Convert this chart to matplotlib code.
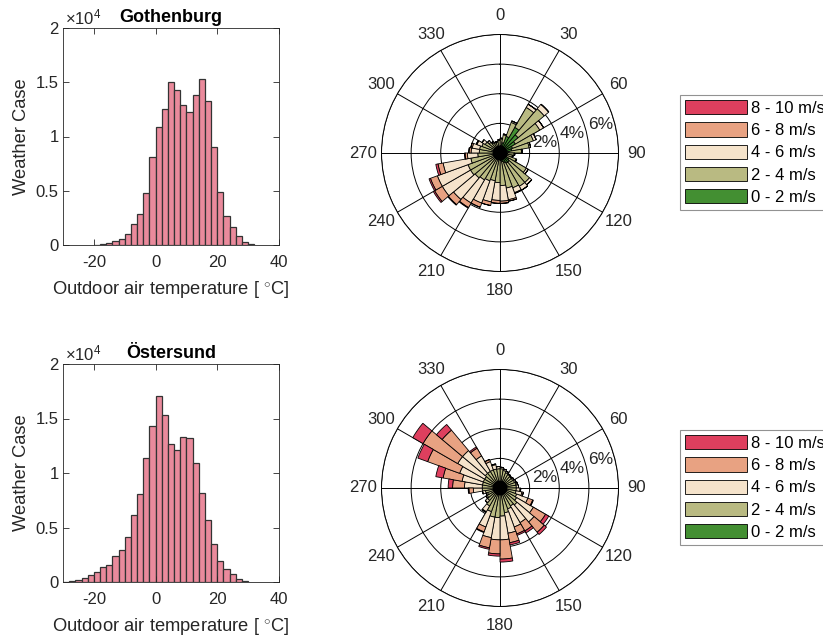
import numpy as np
import matplotlib
matplotlib.use('Agg')
import matplotlib.pyplot as plt
from matplotlib.patches import Patch

plt.rcParams['font.family'] = ['Liberation Sans', 'DejaVu Sans']
plt.rcParams['mathtext.fontset'] = 'custom'
plt.rcParams['mathtext.rm'] = 'Liberation Sans'
plt.rcParams['mathtext.it'] = 'Liberation Sans:italic'
plt.rcParams['mathtext.bf'] = 'Liberation Sans:bold'
plt.rcParams['axes.unicode_minus'] = False

# ---------------- data ----------------
cities = ['Gothenburg', 'Östersund']

# temperature histograms (bin width 2 °C, left edges)
goth_bin_left = list(range(-20, 32, 2))
goth_counts = [20, 60, 150, 360, 550, 1000, 1900, 2850, 4760, 8100, 10900, 12500,
               15000, 14300, 12900, 12300, 13800, 15300, 13300, 9060, 4900, 2670,
               1630, 830, 280, 60]
ost_bin_left = list(range(-30, 30, 2))
ost_counts = [30, 80, 200, 400, 600, 900, 1400, 1600, 2400, 2900, 4150, 6150, 8100,
              11350, 14340, 17100, 15300, 12700, 12140, 13330, 13200, 10900, 8140,
              5690, 3500, 1900, 1160, 700, 280, 100]

# wind rose: 36 direction sectors (centres, degrees), frequency in % per speed class
directions = list(range(5, 360, 10))
speed_labels = ['0 - 2 m/s', '2 - 4 m/s', '4 - 6 m/s', '6 - 8 m/s', '8 - 10 m/s']

goth_0_2 = [0.5, 0.7, 1.2, 2.0, 1.6, 1.2, 0.9, 0.8, 0.6, 0.5, 0.45, 0.5,
            0.7, 0.8, 0.8, 0.7, 0.6, 0.5, 0.4, 0.4, 0.4, 0.4, 0.4, 0.4,
            0.4, 0.4, 0.4, 0.4, 0.4, 0.4, 0.4, 0.35, 0.35, 0.35, 0.4, 0.45]
goth_2_4 = [0.45, 0.55, 1.0, 1.55, 2.3, 1.9, 1.5, 1.2, 0.85, 0.45, 0.4, 0.65,
            1.35, 1.8, 1.8, 1.8, 1.8, 1.7, 1.6, 1.5, 1.6, 1.7, 1.8, 1.9,
            1.9, 1.6, 1.1, 1.0, 1.0, 0.9, 0.75, 0.6, 0.45, 0.4, 0.35, 0.4]
goth_4_6 = [0.05, 0.05, 0.1, 0.25, 0.4, 0.3, 0.2, 0.1, 0.05, 0.05, 0.05, 0.05,
            0.15, 0.2, 0.3, 0.35, 0.8, 1.05, 1.2, 1.45, 1.6, 1.8, 1.9, 2.2,
            2.2, 1.9, 0.7, 0.55, 0.5, 0.35, 0.25, 0.15, 0.1, 0.05, 0.05, 0.05]
goth_6_8 = [0, 0, 0, 0, 0, 0, 0, 0, 0, 0, 0, 0,
            0, 0, 0, 0.05, 0.1, 0.15, 0.2, 0.25, 0.3, 0.35, 0.45, 0.6,
            0.5, 0.35, 0.15, 0.15, 0.1, 0.05, 0, 0, 0, 0, 0, 0]
goth_8_10 = [0, 0, 0, 0, 0, 0, 0, 0, 0, 0, 0, 0,
             0, 0, 0, 0, 0, 0, 0, 0, 0, 0.05, 0.05, 0.1,
             0.1, 0.15, 0.05, 0, 0, 0, 0, 0, 0, 0, 0, 0]

ost_0_2 = [0.2] * 36
ost_2_4 = [1.1, 1.0, 0.9, 0.85, 0.8, 0.8, 0.85, 0.9, 0.9, 0.9, 0.9, 1.0,
           1.1, 1.3, 1.2, 1.3, 1.5, 1.7, 1.8, 1.8, 1.5, 1.2, 0.9, 0.8,
           0.7, 0.8, 1.0, 1.0, 1.0, 1.0, 1.0, 1.1, 1.1, 1.1, 1.1, 1.1]
ost_4_6 = [0.1, 0.1, 0.1, 0.05, 0.05, 0.1, 0.1, 0.1, 0.15, 0.25, 0.4, 0.8,
           1.3, 1.5, 1.3, 1.3, 1.4, 1.6, 1.5, 1.4, 1.1, 0.45, 0.2, 0.1,
           0.1, 0.2, 0.6, 1.2, 1.4, 1.7, 2.1, 2.0, 1.2, 0.6, 0.3, 0.15]
ost_6_8 = [0, 0, 0, 0, 0, 0, 0, 0, 0, 0.05, 0.1, 0.35,
           0.95, 0.9, 0.65, 0.5, 0.65, 1.3, 0.95, 0.7, 0.35, 0.05, 0, 0,
           0, 0, 0.3, 0.8, 1.3, 2.3, 2.7, 1.8, 0.6, 0.15, 0.05, 0]
ost_8_10 = [0, 0, 0, 0, 0, 0, 0, 0, 0, 0, 0, 0.05,
            0.25, 0.2, 0.15, 0.1, 0.15, 0.2, 0.15, 0.1, 0.05, 0, 0, 0,
            0, 0, 0.05, 0.3, 0.5, 0.7, 0.8, 0.5, 0.1, 0, 0, 0]

rose_data = [
    [goth_0_2, goth_2_4, goth_4_6, goth_6_8, goth_8_10],
    [ost_0_2, ost_2_4, ost_4_6, ost_6_8, ost_8_10],
]
hist_data = [(goth_bin_left, goth_counts), (ost_bin_left, ost_counts)]

speed_colors = ['#438F32', '#B9BA82', '#F5E3CB', '#E8A282', '#DE3F5E']
hist_color = '#EA8A9C'
txt = '#262626'
hub_radius = 0.45

# ---------------- figure ----------------
W, H = 823, 642
fig = plt.figure(figsize=(W / 100, H / 100), dpi=100)


def fx(px):
    return px / W


def fy(py):
    return 1 - py / H


hist_boxes = [(63, 28, 279, 245), (63, 364, 279, 582)]
rose_centres = [(500, 153), (500, 488)]
R = 118.5

for i in range(2):
    # ---- histogram ----
    x0, y0, x1, y1 = hist_boxes[i]
    ax = fig.add_axes([fx(x0), fy(y1), fx(x1 - x0), (y1 - y0) / H])
    left, counts = hist_data[i]
    ax.bar(left, counts, width=2, align='edge', color=hist_color,
           edgecolor='#333333', linewidth=0.9)
    ax.set_xlim(-30, 40)
    ax.set_ylim(0, 20000)
    ax.set_xticks([-20, 0, 20, 40])
    ax.set_yticks([0, 5000, 10000, 15000, 20000])
    ax.set_yticklabels(['0', '0.5', '1', '1.5', '2'])
    ax.tick_params(direction='in', length=4, width=0.6, colors=txt,
                   labelsize=12, top=True, right=True)
    ax.tick_params(axis='y', pad=3)
    ax.tick_params(axis='x', pad=7)
    for s in ax.spines.values():
        s.set_color(txt)
        s.set_linewidth(0.6)
    ax.set_ylabel('Weather Case', fontsize=13.2, color=txt, labelpad=4)
    ax.set_xlabel('Outdoor air temperature [ $^{\\circ}$C]', fontsize=13.2,
                  color=txt, labelpad=7)
    ax.set_title(cities[i], fontsize=13, fontweight='bold', color='black', pad=4)
    ax.text(0.01, 1.005, '×10$^{4}$', transform=ax.transAxes, ha='left',
            va='bottom', fontsize=12, color=txt)

    # ---- wind rose ----
    cx, cy = rose_centres[i]
    pax = fig.add_axes([fx(cx - R), fy(cy + R), fx(2 * R), 2 * R / H],
                       projection='polar')
    pax.set_theta_zero_location('N')
    pax.set_theta_direction(-1)
    theta = np.deg2rad(directions)
    bottom = np.zeros(len(directions))
    for k, vals in enumerate(rose_data[i]):
        v = np.array(vals, dtype=float)
        pax.bar(theta, v, width=np.deg2rad(10), bottom=bottom,
                color=speed_colors[k], edgecolor='black', linewidth=0.6,
                zorder=3)
        bottom = bottom + v
    # dark hub where all sector edges converge
    hub_t = np.linspace(0, 2 * np.pi, 100)
    pax.fill(hub_t, np.full_like(hub_t, hub_radius), color='black', zorder=4)
    pax.set_ylim(0, 8)
    pax.set_yticks([2, 4, 6, 8])
    pax.set_yticklabels([])
    pax.set_xticks(np.deg2rad(np.arange(0, 360, 30)))
    pax.set_xticklabels([])
    pax.grid(True, color='black', linewidth=0.7)
    pax.set_axisbelow(True)
    pax.spines['polar'].set_color('black')
    pax.spines['polar'].set_linewidth(0.7)
    for d in range(0, 360, 30):
        pax.text(np.deg2rad(d), 9.25, str(d), ha='center', va='center',
                 fontsize=12, color=txt, clip_on=False)
    for r in (2, 4, 6):
        pax.text(np.deg2rad(72), r + 0.25, f'{r}%', ha='left', va='center',
                 fontsize=12.5, color=txt, zorder=5)

    # ---- legend ----
    handles = [Patch(facecolor=speed_colors[k], edgecolor='black', linewidth=0.6)
               for k in range(4, -1, -1)]
    labels = [speed_labels[k] for k in range(4, -1, -1)]
    leg = fig.legend(handles, labels, loc='upper left',
                     bbox_to_anchor=(fx(680), fy(95 + 335 * i)),
                     fontsize=12, frameon=True, fancybox=False,
                     handlelength=3.7, handleheight=0.95, labelspacing=0.38,
                     handletextpad=0.25, borderpad=0.3, borderaxespad=0)
    leg.get_frame().set_edgecolor('#777777')
    leg.get_frame().set_linewidth(0.8)

fig.savefig('out.png', dpi=100)
